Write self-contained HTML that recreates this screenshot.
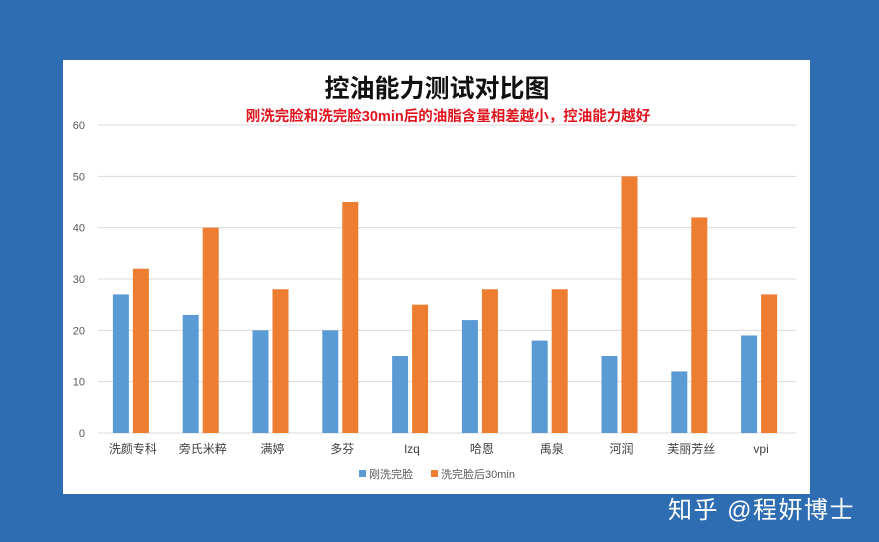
<!DOCTYPE html>
<html><head><meta charset="utf-8"><style>
html,body{margin:0;padding:0;}
body{width:879px;height:542px;background:#2f6db3;position:relative;overflow:hidden;font-family:"Liberation Sans","Noto Sans CJK SC",sans-serif;}
#panel{position:absolute;left:63px;top:60px;width:747px;height:434px;background:#fff;}
#wm{position:absolute;left:668px;top:490px;color:#fff;font-size:24px;font-family:"Liberation Sans","Noto Sans CJK SC",sans-serif;letter-spacing:1.5px;}
</style></head><body>
<div id="panel"></div>
<svg id="chart" width="879" height="542" style="position:absolute;left:0;top:0">
<text x="437" y="97" text-anchor="middle" font-size="25" font-weight="bold" fill="#111" font-family="Liberation Sans, Noto Sans CJK SC, sans-serif">控油能力测试对比图</text>
<text x="448" y="121" text-anchor="middle" font-size="14.5" font-weight="bold" fill="#e0141e" font-family="Liberation Sans, Noto Sans CJK SC, sans-serif">刚洗完脸和洗完脸30min后的油脂含量相差越小，控油能力越好</text>
<g id="grid"></g><g id="bars"></g><g id="xl"></g>
<g>
<rect x="359" y="470" width="7" height="7" fill="#5b9bd5"/>
<text x="369" y="478" font-size="11" fill="#595959">刚洗完脸</text>
<rect x="431" y="470" width="7" height="7" fill="#ed7d31"/>
<text x="441" y="478" font-size="11" fill="#595959">洗完脸后30min</text>
</g>
</svg>
<div id="wm">知乎 @程妍博士</div>
<script>
const categories=["洗颜专科","旁氏米粹","满婷","多芬","lzq","哈恩","禹泉","河润","芙丽芳丝","vpi"];
const freshValues=[27,23,20,20,15,22,18,15,12,19];
const after30Values=[32,40,28,45,25,28,28,50,42,27];
const yTicks=[0,10,20,30,40,50,60];
const NS="http://www.w3.org/2000/svg";
const x0=98,x1=796,y0=433,y1=125,yMax=60;
const y=v=>y0-(v/yMax)*(y0-y1);
const bw=(x1-x0)/categories.length;
const xc=i=>x0+bw*(i+0.5);
function mk(t,a,p){const e=document.createElementNS(NS,t);for(const k in a)e.setAttribute(k,a[k]);p.appendChild(e);return e;}
const grid=document.getElementById('grid'),bars=document.getElementById('bars'),xl=document.getElementById('xl');
yTicks.forEach(v=>{
 const l=mk('line',{x1:x0,x2:x1,y1:y(v),y2:y(v),stroke:'#d9d9d9','stroke-width':1},grid);
 
 
 const t=mk('text',{x:85,y:y(v)+4,'text-anchor':'end','font-size':11,fill:'#595959'},grid);
 t.textContent=v;
 
 
});
categories.forEach((c,i)=>{
 const b1=mk('rect',{x:xc(i)-20,y:y(freshValues[i]),width:16,height:y0-y(freshValues[i]),fill:'#5b9bd5'},bars);
 
 
 const b2=mk('rect',{x:xc(i),y:y(after30Values[i]),width:16,height:y0-y(after30Values[i]),fill:'#ed7d31'},bars);
 
 
 const t=mk('text',{x:xc(i),y:453,'text-anchor':'middle','font-size':12,fill:'#404040'},xl);
 t.textContent=c;
 
 
});
</script>
</body></html>
